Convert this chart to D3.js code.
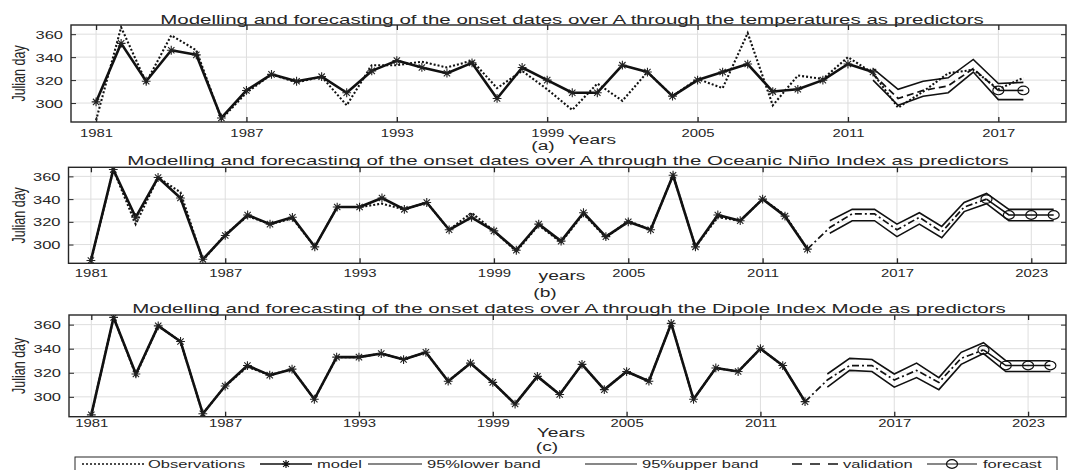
<!DOCTYPE html>
<html>
<head>
<meta charset="utf-8">
<script src="https://cdn.jsdelivr.net/npm/d3@7"></script>
<style>
  body { margin: 0; background: #fff; }
  svg { display: block; }
  text { font-family: "Liberation Sans", Arial, Helvetica, sans-serif; fill: #262626; }
</style>
</head>
<body>
<svg id="chart" width="1068" height="470"></svg>
<script>
// ---------------- data ----------------
const histYears = d3.range(1981, 2014);              // 1981 .. 2013
const observed = [285, 366, 318, 359, 346, 286, 309, 325, 318, 323, 298, 333, 333, 336, 331, 337, 313,
                  328, 312, 294, 317, 302, 327, 306, 321, 313, 361, 298, 324, 321, 340, 326, 296];
const observedLateYears = [2014, 2015, 2016, 2017, 2018];
const observedLate = [310, 326, 329, 312, 322];

// (a) temperatures as predictors
const modelAYears = d3.range(1981, 2013);            // 1981 .. 2012
const modelA = [301, 352, 319, 346, 342, 287, 311, 325, 319, 323, 309, 328, 337, 331, 326, 335,
                304, 331, 320, 309, 309, 333, 327, 306, 320, 327, 334, 310, 312, 320, 334, 327];
const bandAYears = d3.range(2012, 2019);             // 2012 .. 2018
const upperA = [330, 312, 319, 322, 338, 317, 318];
const lowerA = [320, 298, 306, 309, 327, 303, 303];
const validAYears = d3.range(2012, 2018);            // 2012 .. 2017
const validA = [325, 304, 311, 315, 330, 311];
const forecastAYears = [2017, 2018];
const forecastA = [311, 311];

// (b) Oceanic Niño Index, (c) Dipole Index Mode
const modelB = [286, 366, 324, 359, 341, 287, 308, 326, 318, 324, 298, 333, 333, 341, 331, 337, 313,
                324, 312, 295, 318, 303, 328, 307, 320, 313, 361, 298, 326, 321, 340, 325, 296];
const modelC = [285, 366, 319, 359, 346, 286, 309, 326, 318, 323, 298, 333, 333, 336, 331, 337, 313,
                328, 312, 294, 317, 302, 327, 306, 321, 313, 361, 298, 324, 321, 340, 326, 296];
const bandYears = d3.range(2014, 2025);              // 2014 .. 2024
const upperB = [321, 331, 331, 318, 328, 316, 337, 345, 331, 331, 331];
const lowerB = [310, 321, 321, 307, 318, 306, 329, 336, 321, 321, 321];
const upperC = [319, 332, 331, 319, 328, 316, 337, 345, 330, 330, 330];
const lowerC = [308, 322, 321, 308, 316, 306, 327, 336, 321, 321, 321];
const validYears = d3.range(2013, 2022);             // 2013 .. 2021
const validB = [296, 315, 327, 327, 313, 324, 311, 333, 340];
const validC = [296, 314, 326, 326, 314, 322, 312, 332, 339];
const forecastYears = [2021, 2022, 2023, 2024];
const forecastB = [340, 326, 326, 326];
const forecastC = [339, 326, 326, 326];

const yTicks = [300, 320, 340, 360];
const xTicksA = [1981, 1987, 1993, 1999, 2005, 2011, 2017];
const xTicksBC = [1981, 1987, 1993, 1999, 2005, 2011, 2017, 2023];

const titles = [
  "Modelling and forecasting of the onset dates over A through the temperatures as predictors",
  "Modelling and forecasting of the onset dates over A through the Oceanic Niño Index as predictors",
  "Modelling and forecasting of the onset dates over A through the Dipole Index Mode as predictors"
];
const xLabels = ["Years", "years", "Years"];
const panelTags = ["(a)", "(b)", "(c)"];
const legendLabels = ["Observations", "model", "95%lower band", "95%upper band", "validation", "forecast"];

// ---------------- drawing ----------------
const SX_TICK = 1.42;         // horizontal stretch of the lettering
const SX_TITLE = 1.64;
const SX_LABEL = 1.6;
const SX_LEGEND = 1.5;
const svg = d3.select("#chart");
const zip = (xs, ys) => xs.map((x, i) => [x, ys[i]]);

const panels = [
  { top: 25, bottom: 122, left: 71, right: 1066, xDom: [1980, 2019.7], xTicks: xTicksA, tickDy: 15,
    titleX: 572, titleY: 24, labX: 592, labY: 143.5, tagX: 543, tagY: 150,
    series: {
      obs: zip(histYears, observed).concat(zip(observedLateYears, observedLate)),
      model: zip(modelAYears, modelA),
      upper: zip(bandAYears, upperA), lower: zip(bandAYears, lowerA),
      valid: zip(validAYears, validA), forecast: zip(forecastAYears, forecastA)
    } },
  { top: 167.3, bottom: 263.3, left: 68.5, right: 1066, xDom: [1980, 2024.55], xTicks: xTicksBC, tickDy: 14,
    titleX: 568, titleY: 165, labX: 562, labY: 280, tagX: 545, tagY: 297,
    series: {
      obs: zip(histYears, observed), model: zip(histYears, modelB),
      upper: zip(bandYears, upperB), lower: zip(bandYears, lowerB),
      valid: zip(validYears, validB), forecast: zip(forecastYears, forecastB)
    } },
  { top: 315, bottom: 416.7, left: 69, right: 1066, xDom: [1980, 2024.7], xTicks: xTicksBC, tickDy: 10.5,
    titleX: 569, titleY: 312.5, labX: 561, labY: 436.5, tagX: 547, tagY: 450.5,
    series: {
      obs: zip(histYears, observed), model: zip(histYears, modelC),
      upper: zip(bandYears, upperC), lower: zip(bandYears, lowerC),
      valid: zip(validYears, validC), forecast: zip(forecastYears, forecastC)
    } }
];

function starPath(r) {
  const k = r * 0.72;
  return `M${-r},0L${r},0M0,${-r}L0,${r}M${-k},${-k}L${k},${k}M${-k},${k}L${k},${-k}`;
}

function stretchedText(parent, str, x, y, size, sx, anchor) {
  return parent.append("text")
    .attr("transform", `translate(${x},${y}) scale(${sx},1)`)
    .attr("text-anchor", anchor || "middle")
    .style("font-size", size + "px")
    .text(str);
}

panels.forEach((p, i) => {
  const x = d3.scaleLinear().domain(p.xDom).range([p.left, p.right]);
  const y = d3.scaleLinear().domain([283.5, 368]).range([p.bottom, p.top]);
  const g = svg.append("g");

  // grid
  g.append("g").selectAll("line").data(p.xTicks).join("line")
    .attr("x1", d => x(d)).attr("x2", d => x(d)).attr("y1", p.top).attr("y2", p.bottom)
    .attr("stroke", "#dedede").attr("stroke-width", 1);
  g.append("g").selectAll("line").data(yTicks).join("line")
    .attr("x1", p.left).attr("x2", p.right).attr("y1", d => y(d)).attr("y2", d => y(d))
    .attr("stroke", "#dedede").attr("stroke-width", 1);

  const clipId = "clip" + i;
  svg.append("clipPath").attr("id", clipId).append("rect")
    .attr("x", p.left).attr("y", p.top).attr("width", p.right - p.left).attr("height", p.bottom - p.top);
  const plot = g.append("g").attr("clip-path", `url(#${clipId})`);
  const line = d3.line().x(d => x(d[0])).y(d => y(d[1]));
  const s = p.series;

  // confidence band
  plot.append("path").datum(s.upper).attr("d", line)
    .attr("fill", "none").attr("stroke", "#111").attr("stroke-width", 1.6);
  plot.append("path").datum(s.lower).attr("d", line)
    .attr("fill", "none").attr("stroke", "#111").attr("stroke-width", 1.6);
  // observations
  plot.append("path").datum(s.obs).attr("d", line)
    .attr("fill", "none").attr("stroke", "#111").attr("stroke-width", 2.1)
    .attr("stroke-dasharray", "2,2");
  // validation
  plot.append("path").datum(s.valid).attr("d", line)
    .attr("fill", "none").attr("stroke", "#111").attr("stroke-width", 1.7)
    .attr("stroke-dasharray", i === 0 ? "7,4" : "7,3,2,3");
  // model
  plot.append("path").datum(s.model).attr("d", line)
    .attr("fill", "none").attr("stroke", "#111").attr("stroke-width", 2.6).attr("stroke-linejoin", "round");
  plot.append("g").selectAll("path").data(s.model).join("path")
    .attr("transform", d => `translate(${x(d[0])},${y(d[1])})`)
    .attr("d", starPath(4.4)).attr("stroke", "#222").attr("stroke-width", 1.1).attr("fill", "none");
  // forecast
  plot.append("path").datum(s.forecast).attr("d", line)
    .attr("fill", "none").attr("stroke", "#111").attr("stroke-width", 1.6);
  plot.append("g").selectAll("ellipse").data(s.forecast).join("ellipse")
    .attr("cx", d => x(d[0])).attr("cy", d => y(d[1])).attr("rx", 5.5).attr("ry", 4.3)
    .attr("fill", "none").attr("stroke", "#111").attr("stroke-width", 1.2);

  // axes (ticks inside the box, on all four sides)
  const ax = g.append("g").attr("transform", `translate(0,${p.bottom})`)
    .call(d3.axisBottom(x).tickValues(p.xTicks).tickFormat(d3.format("d")).tickSizeInner(-5).tickSizeOuter(0).tickPadding(0));
  ax.select(".domain").remove();
  ax.selectAll("line").attr("stroke", "#262626").attr("stroke-width", 1.3);
  ax.selectAll("text").attr("y", null).attr("dy", null)
    .attr("transform", `translate(0,${p.tickDy}) scale(${SX_TICK},1)`)
    .style("font-size", "10.5px").attr("fill", "#262626");

  const axT = g.append("g").attr("transform", `translate(0,${p.top})`)
    .call(d3.axisTop(x).tickValues(p.xTicks).tickFormat("").tickSizeInner(-5).tickSizeOuter(0));
  axT.select(".domain").remove();
  axT.selectAll("line").attr("stroke", "#262626").attr("stroke-width", 1.3);

  const ay = g.append("g").attr("transform", `translate(${p.left},0)`)
    .call(d3.axisLeft(y).tickValues(yTicks).tickSizeInner(-5).tickSizeOuter(0).tickPadding(0));
  ay.select(".domain").remove();
  ay.selectAll("line").attr("stroke", "#262626");
  ay.selectAll("text").attr("x", null).attr("dy", null)
    .attr("transform", `translate(-8,4) scale(1.5,1)`)
    .style("font-size", "11px").attr("fill", "#262626");

  const ayR = g.append("g").attr("transform", `translate(${p.right},0)`)
    .call(d3.axisRight(y).tickValues(yTicks).tickFormat("").tickSizeInner(-5).tickSizeOuter(0));
  ayR.select(".domain").remove();
  ayR.selectAll("line").attr("stroke", "#262626");

  // box
  g.append("rect").attr("x", p.left).attr("y", p.top)
    .attr("width", p.right - p.left).attr("height", p.bottom - p.top)
    .attr("fill", "none").attr("stroke", "#262626").attr("stroke-width", 1.4);

  // texts
  stretchedText(g, titles[i], p.titleX, p.titleY, 12.5, SX_TITLE);
  stretchedText(g, xLabels[i], p.labX, p.labY, 12, SX_LABEL);
  stretchedText(g, panelTags[i], p.tagX, p.tagY, 12, SX_LABEL);
  const yl = (p.top + p.bottom) / 2;
  g.append("text")
    .attr("transform", `translate(25,${yl}) scale(1.5,1) rotate(-90)`)
    .attr("text-anchor", "middle").style("font-size", "12.5px")
    .text("Julian day");
});

// ---------------- legend ----------------
const lg = svg.append("g");
lg.append("rect").attr("x", 75).attr("y", 457).attr("width", 982).attr("height", 20)
  .attr("fill", "#fff").attr("stroke", "#262626").attr("stroke-width", 1);
const ly = 464;
const items = [
  { x1: 82, x2: 145, tx: 148, dash: "2,2", w: 1.6 },
  { x1: 260, x2: 312, tx: 317, marker: "star", w: 1.6 },
  { x1: 368, x2: 422, tx: 427, w: 1.2 },
  { x1: 585, x2: 637, tx: 642, w: 1.2 },
  { x1: 792, x2: 838, tx: 843, dash: "10,8", w: 1.4 },
  { x1: 927, x2: 977, tx: 983, marker: "circle", w: 1.2 }
];
items.forEach((it, k) => {
  lg.append("line").attr("x1", it.x1).attr("x2", it.x2).attr("y1", ly).attr("y2", ly)
    .attr("stroke", "#111").attr("stroke-width", it.w)
    .attr("stroke-dasharray", it.dash || null);
  const cx = (it.x1 + it.x2) / 2;
  if (it.marker === "star") {
    lg.append("path").attr("transform", `translate(${cx},${ly})`).attr("d", starPath(4))
      .attr("stroke", "#111").attr("stroke-width", 1.2).attr("fill", "none");
  } else if (it.marker === "circle") {
    lg.append("ellipse").attr("cx", cx).attr("cy", ly).attr("rx", 5.5).attr("ry", 4.3)
      .attr("fill", "none").attr("stroke", "#111").attr("stroke-width", 1.2);
  }
  stretchedText(lg, legendLabels[k], it.tx, ly + 4, 11, SX_LEGEND, "start");
});
</script>
</body>
</html>
